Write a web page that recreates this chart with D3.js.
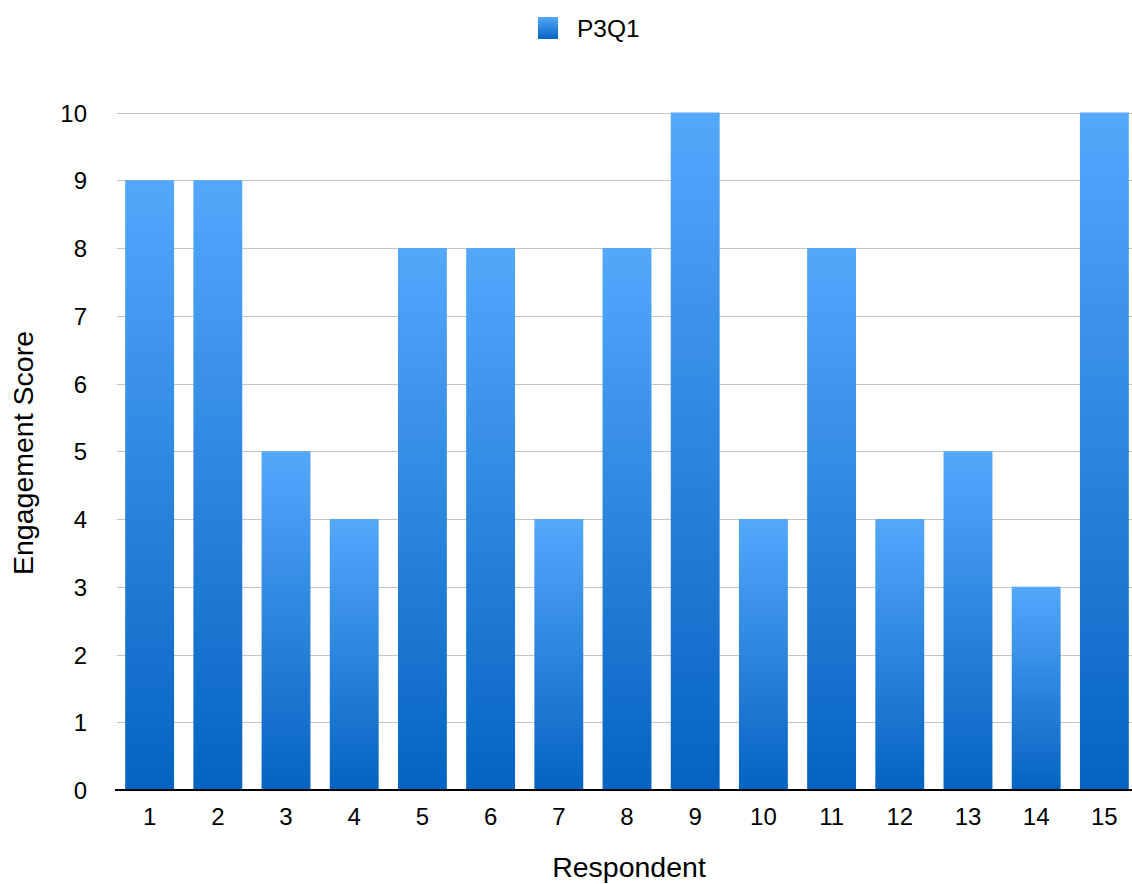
<!DOCTYPE html>
<html>
<head>
<meta charset="utf-8">
<script src="https://cdn.jsdelivr.net/npm/d3@7/dist/d3.min.js"></script>
<style>
  html, body { margin: 0; padding: 0; background: #fff; overflow: hidden; }
  svg { display: block; font-family: "Liberation Sans", Arial, Helvetica, sans-serif; }
</style>
</head>
<body>
<svg id="chart" width="1132" height="884"></svg>
<script>
// Respondent numbers and their P3Q1 engagement scores
const respondents = ["1","2","3","4","5","6","7","8","9","10","11","12","13","14","15"];
const scores = [9, 9, 5, 4, 8, 8, 4, 8, 10, 4, 8, 4, 5, 3, 10];
const yTicks = [0, 1, 2, 3, 4, 5, 6, 7, 8, 9, 10];
const seriesName = "P3Q1";

const svg = d3.select("#chart");

const plot = { left: 117, right: 1137, top: 112.5, bottom: 790 };

const x = d3.scaleBand()
  .domain(respondents)
  .range([plot.left, plot.right])
  .paddingInner(0.283)
  .paddingOuter(0.12);

const y = d3.scaleLinear()
  .domain([0, 10])
  .range([plot.bottom, plot.top]);

// Vertical blue gradient used by every bar and the legend swatch
const defs = svg.append("defs");
const grad = defs.append("linearGradient")
  .attr("id", "barGrad")
  .attr("x1", 0).attr("y1", 0).attr("x2", 0).attr("y2", 1);
grad.append("stop").attr("offset", "0%").attr("stop-color", "#53a8fb");
grad.append("stop").attr("offset", "100%").attr("stop-color", "#0563c1");

// Horizontal gridlines
svg.append("g")
  .selectAll("line")
  .data(yTicks.filter(d => d > 0))
  .join("line")
  .attr("x1", plot.left)
  .attr("x2", 1132)
  .attr("y1", d => Math.round(y(d)) + 0.5)
  .attr("y2", d => Math.round(y(d)) + 0.5)
  .attr("stroke", "#c4c4c4")
  .attr("stroke-width", 1);

// Bars
svg.append("g")
  .selectAll("rect")
  .data(respondents.map((r, i) => ({ r, v: scores[i] })))
  .join("rect")
  .attr("x", d => x(d.r))
  .attr("y", d => y(d.v))
  .attr("width", x.bandwidth())
  .attr("height", d => y(0) - y(d.v))
  .attr("fill", "url(#barGrad)");

// Baseline
svg.append("line")
  .attr("x1", 115).attr("x2", 1132)
  .attr("y1", plot.bottom).attr("y2", plot.bottom)
  .attr("stroke", "#000").attr("stroke-width", 2.2);

// Y axis tick labels
const yAxis = d3.axisLeft(y).tickValues(yTicks).tickSize(0).tickPadding(0).tickFormat(d3.format("d"));
const gy = svg.append("g").attr("transform", `translate(87,0)`).call(yAxis);
gy.select(".domain").remove();
gy.selectAll("text")
  .attr("font-size", 24)
  .attr("font-family", "Liberation Sans, Arial, sans-serif")
  .attr("fill", "#000")
  .attr("dy", "0.36em");

// X axis tick labels
const xAxis = d3.axisBottom(x).tickSize(0).tickPadding(0);
const gx = svg.append("g").attr("transform", `translate(0,825)`).call(xAxis);
gx.select(".domain").remove();
gx.selectAll("text")
  .attr("font-size", 24)
  .attr("font-family", "Liberation Sans, Arial, sans-serif")
  .attr("fill", "#000")
  .attr("dy", 0)
  .attr("y", 0);

// Axis titles
svg.append("text")
  .attr("x", 629).attr("y", 877)
  .attr("text-anchor", "middle")
  .attr("font-size", 28.5)
  .attr("fill", "#000")
  .text("Respondent");

svg.append("text")
  .attr("transform", "translate(33,453) rotate(-90)")
  .attr("text-anchor", "middle")
  .attr("font-size", 28.5)
  .attr("fill", "#000")
  .text("Engagement Score");

// Legend
const legend = svg.append("g");
legend.append("rect")
  .attr("x", 538).attr("y", 17)
  .attr("width", 20).attr("height", 22)
  .attr("fill", "url(#barGrad)");
legend.append("text")
  .attr("x", 577).attr("y", 37)
  .attr("font-size", 24.5)
  .attr("fill", "#000")
  .text(seriesName);
</script>
</body>
</html>
